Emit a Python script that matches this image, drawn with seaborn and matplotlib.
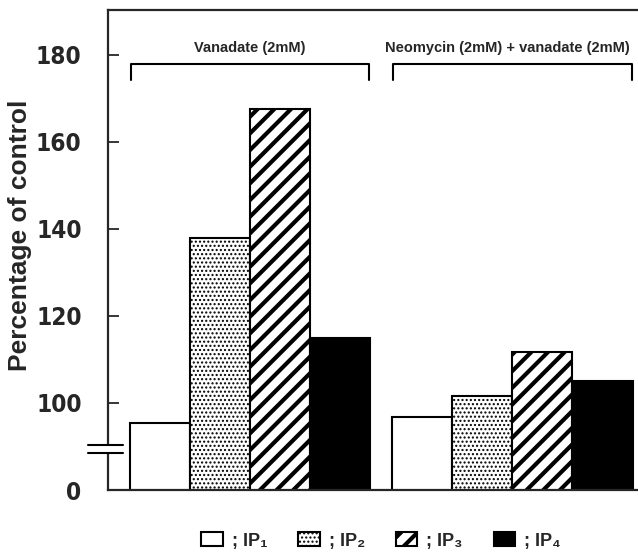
import matplotlib
matplotlib.use("Agg")
import matplotlib.pyplot as plt
import matplotlib.transforms as mtransforms
from matplotlib.patches import Patch
import seaborn as sns
import pandas as pd

# values (percentage of control)
groups = ["Vanadate (2mM)", "Neomycin (2mM) + vanadate (2mM)"]
species = ["IP1", "IP2", "IP3", "IP4"]
vanadate = [95.5, 138.0, 167.5, 115.0]
neomycin = [96.8, 101.6, 111.8, 105.1]
legend_labels = ["; IP\u2081", "; IP\u2082", "; IP\u2083", "; IP\u2084"]
yticks = [80, 100, 120, 140, 160, 180]
ytick_labels = ["0", "100", "120", "140", "160", "180"]

fills = ["white", "white", "white", "black"]
hatches = ["", "....", "//", ""]
hatch_lw = [1.0, 1.0, 3.0, 1.0]


def set_hlw(p, lw):
    if hasattr(p, "set_hatch_linewidth"):
        p.set_hatch_linewidth(lw)
    else:
        p._hatch_linewidth = lw


sns.set_style("ticks")
plt.rcParams["font.family"] = ["Liberation Sans", "DejaVu Sans"]
plt.rcParams["hatch.linewidth"] = 3.0

df = pd.DataFrame({
    "group": [g for g in groups for _ in species],
    "species": species * len(groups),
    "value": vanadate + neomycin,
})

fig = plt.figure(figsize=(6.38, 5.53), dpi=100)
ax = fig.add_axes([108 / 638, 1 - 490 / 553, 532 / 638, 480 / 553])

sns.barplot(data=df, x="group", y="value", hue="species", hue_order=species,
            palette=fills, width=0.915, edgecolor="black", linewidth=1.5,
            legend=False, ax=ax)
for cont, h, lw in zip(ax.containers, hatches, hatch_lw):
    for bar in cont:
        bar.set_hatch(h)
        bar.set_edgecolor("black")
        set_hlw(bar, lw)

ax.set_xlim(-0.541, 1.486)
ax.set_ylim(80, 190.3)
ax.set_xticks([])
ax.set_xlabel("")
ax.set_yticks(yticks)
ax.set_yticklabels(ytick_labels, family="DejaVu Sans", fontstretch="condensed",
                   fontweight="bold", fontsize=17.5)
ax.tick_params(axis="y", direction="in", length=8, width=1.3, pad=19)
ax.set_ylabel("Percentage of control", fontsize=19, fontweight="bold")
ax.yaxis.set_label_coords(-0.142, 0.53)

for side in ["left", "bottom", "top"]:
    ax.spines[side].set_linewidth(1.6)
ax.spines["right"].set_visible(False)

# axis break on the left spine
trans = mtransforms.blended_transform_factory(ax.transAxes, ax.transData)
ax.plot([0, 0], [88.4, 90.3], transform=trans, color="white", lw=4,
        clip_on=False, zorder=5, solid_capstyle="butt")
for yb in [88.4, 90.3]:
    ax.plot([-0.038, 0.028], [yb, yb], transform=trans, color="black", lw=1.5,
            clip_on=False, zorder=6)

# group brackets and titles
for i, g in enumerate(groups):
    yb = 178.0
    ax.plot([i - 0.455, i - 0.455, i + 0.455, i + 0.455],
            [174.2, yb, yb, 174.2], color="black", lw=1.5)
    tx = i if i == 0 else 0.98
    ax.text(tx, 181.6, g, ha="center", va="center", fontsize=10.5,
            fontweight="bold")

handles = [Patch(facecolor=f, edgecolor="black", hatch=h, linewidth=1.5)
           for f, h in zip(fills, hatches)]
leg = fig.legend(handles, legend_labels, loc="center",
                 bbox_to_anchor=(381 / 638, 1 - 541 / 553),
                 ncol=4, frameon=False, handlelength=1.2, handleheight=0.8,
                 handletextpad=0.5, columnspacing=1.7,
                 prop={"weight": "bold", "size": 13})
for p, lw in zip(leg.get_patches(), hatch_lw):
    set_hlw(p, lw)

fig.savefig("out.png", dpi=100)
